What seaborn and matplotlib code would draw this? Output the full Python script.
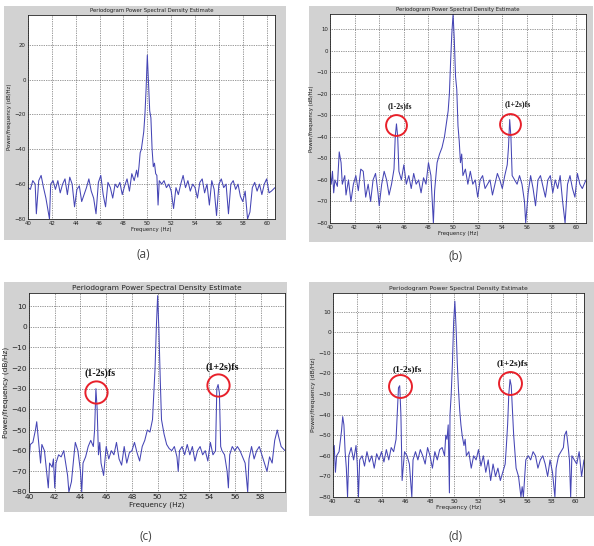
import matplotlib
matplotlib.use("Agg")
import matplotlib.pyplot as plt
import seaborn as sns
import numpy as np
import pandas as pd
from matplotlib.patches import Rectangle

sns.set_style("white")
plt.rcParams['font.family'] = ['DejaVu Sans']

# ---------------- data ----------------
freq_a = [40.0, 40.2, 40.4, 40.6, 40.7, 40.9, 41.1, 41.3, 41.5, 41.6, 41.8, 41.9, 42.1, 42.3, 42.5, 42.7,
          42.9, 43.1, 43.3, 43.5, 43.7, 43.9, 44.1, 44.3, 44.5, 44.7, 44.9, 45.1, 45.3, 45.5, 45.7, 45.9,
          46.1, 46.3, 46.5, 46.7, 46.9, 47.1, 47.3, 47.5, 47.7, 47.9, 48.1, 48.3, 48.5, 48.7, 48.9, 49.1,
          49.2, 49.3, 49.4, 49.5, 49.6, 49.7, 49.8, 49.9, 50.0, 50.1, 50.2, 50.3, 50.4, 50.5, 50.6, 50.7,
          50.8, 50.9, 51.0, 51.2, 51.4, 51.6, 51.8, 52.0, 52.2, 52.4, 52.6, 52.8, 53.0, 53.2, 53.4, 53.6,
          53.8, 54.0, 54.2, 54.4, 54.6, 54.8, 55.0, 55.2, 55.4, 55.6, 55.8, 56.0, 56.2, 56.4, 56.6, 56.8,
          57.0, 57.2, 57.4, 57.6, 57.8, 58.0, 58.2, 58.4, 58.6, 58.8, 59.0, 59.2, 59.4, 59.6, 59.8, 60.0,
          60.2, 60.4, 60.7]
psd_a = [-62, -63, -58, -60, -77, -58, -55, -62, -68, -72, -80, -60, -58, -63, -58, -65,
         -60, -57, -66, -56, -60, -73, -63, -61, -70, -66, -62, -57, -64, -68, -77, -59,
         -55, -66, -73, -59, -62, -68, -60, -62, -59, -66, -61, -57, -64, -54, -58, -52,
         -56, -50, -42, -40, -35, -30, -20, -5, 14, -2, -18, -22, -40, -50, -48, -54,
         -55, -72, -58, -60, -58, -62, -60, -64, -74, -62, -66, -60, -55, -62, -58, -64,
         -60, -62, -68, -59, -57, -65, -60, -72, -58, -63, -78, -60, -57, -62, -60, -77,
         -60, -58, -63, -60, -67, -70, -64, -80, -76, -62, -59, -64, -60, -66, -60, -57,
         -65, -64, -62]

freq_b = [40.0, 40.1, 40.2, 40.3, 40.4, 40.6, 40.75, 40.9, 41.0, 41.2, 41.3, 41.5, 41.7, 41.9, 42.1, 42.3,
          42.5, 42.7, 42.9, 43.1, 43.3, 43.5, 43.7, 43.9, 44.0, 44.2, 44.4, 44.6, 44.8, 45.0, 45.2, 45.3,
          45.4, 45.5, 45.6, 45.8, 46.0, 46.2, 46.4, 46.6, 46.8, 47.0, 47.2, 47.4, 47.6, 47.8, 48.0, 48.2,
          48.4, 48.5, 48.7, 48.9, 49.1, 49.3, 49.5, 49.6, 49.7, 49.8, 49.9, 50.0, 50.1, 50.2, 50.3, 50.4,
          50.5, 50.6, 50.7, 50.8, 51.0, 51.2, 51.4, 51.6, 51.8, 52.0, 52.2, 52.4, 52.6, 52.8, 53.0, 53.2,
          53.4, 53.6, 53.8, 54.0, 54.2, 54.4, 54.5, 54.6, 54.7, 54.8, 55.0, 55.2, 55.4, 55.6, 55.8, 55.9,
          56.1, 56.3, 56.5, 56.7, 56.9, 57.1, 57.3, 57.5, 57.7, 57.9, 58.1, 58.3, 58.5, 58.7, 58.9, 59.1,
          59.3, 59.5, 59.7, 59.9, 60.1, 60.3, 60.5, 60.8]
psd_b = [-57, -62, -56, -66, -60, -63, -47, -52, -62, -58, -67, -60, -70, -62, -58, -65,
         -55, -56, -68, -62, -70, -60, -57, -66, -72, -62, -56, -60, -67, -62, -55, -40,
         -34, -40, -56, -60, -53, -62, -58, -64, -57, -62, -60, -66, -59, -62, -52, -58,
         -80, -65, -52, -48, -45, -40, -32, -28, -20, -5, 8, 17, 5, -12, -18, -35,
         -42, -52, -48, -58, -55, -62, -56, -62, -60, -68, -60, -58, -64, -62, -60, -67,
         -62, -57, -60, -64, -58, -53, -45, -32, -40, -58, -60, -62, -58, -62, -70, -80,
         -66, -58, -64, -72, -60, -58, -63, -68, -60, -58, -66, -60, -64, -58, -70, -80,
         -62, -58, -64, -68, -57, -62, -64, -60]

freq_c = [40.0, 40.1, 40.3, 40.5, 40.6, 40.75, 40.9, 41.0, 41.2, 41.4, 41.5, 41.6, 41.8, 41.9, 42.0, 42.1,
          42.3, 42.5, 42.7, 42.9, 43.0, 43.1, 43.3, 43.5, 43.6, 43.8, 44.0, 44.1, 44.2, 44.4, 44.6, 44.8,
          45.0, 45.1, 45.2, 45.3, 45.4, 45.5, 45.6, 45.8, 46.0, 46.2, 46.4, 46.6, 46.8, 47.0, 47.2, 47.4,
          47.6, 47.8, 48.0, 48.2, 48.4, 48.6, 48.8, 49.0, 49.2, 49.4, 49.6, 49.8, 49.9, 50.0, 50.1, 50.2,
          50.3, 50.5, 50.7, 50.9, 51.1, 51.3, 51.5, 51.6, 51.7, 51.9, 52.1, 52.3, 52.5, 52.7, 52.9, 53.1,
          53.3, 53.5, 53.7, 53.9, 54.1, 54.3, 54.5, 54.6, 54.7, 54.8, 54.9, 55.0, 55.2, 55.4, 55.5, 55.6,
          55.8, 56.0, 56.2, 56.4, 56.6, 56.8, 57.0, 57.1, 57.3, 57.5, 57.7, 57.9, 58.1, 58.3, 58.5, 58.7,
          58.9, 59.1, 59.3, 59.4, 59.6, 59.9]
psd_c = [-65, -57, -56, -50, -46, -56, -66, -57, -60, -72, -78, -66, -68, -64, -78, -66,
         -62, -63, -60, -68, -72, -80, -75, -62, -56, -60, -70, -80, -66, -63, -58, -55,
         -58, -50, -30, -40, -62, -56, -66, -72, -58, -64, -60, -62, -56, -64, -67, -58,
         -66, -61, -60, -56, -61, -65, -58, -55, -50, -51, -45, -20, 0, 15, -2, -25,
         -45, -52, -57, -59, -60, -58, -63, -70, -60, -58, -62, -57, -62, -58, -65, -60,
         -58, -62, -60, -65, -56, -62, -60, -30, -28, -32, -58, -60, -62, -70, -78, -62,
         -58, -60, -58, -60, -63, -66, -80, -64, -58, -64, -60, -58, -62, -66, -70, -63,
         -66, -55, -50, -53, -58, -60]

freq_d = [40.0, 40.1, 40.2, 40.3, 40.5, 40.7, 40.8, 40.9, 41.0, 41.1, 41.2, 41.3, 41.5, 41.7, 41.9, 42.0,
          42.1, 42.2, 42.4, 42.6, 42.8, 43.0, 43.2, 43.4, 43.6, 43.8, 44.0, 44.2, 44.4, 44.6, 44.8, 45.0,
          45.2, 45.3, 45.4, 45.5, 45.6, 45.7, 45.9, 46.1, 46.3, 46.5, 46.6, 46.8, 47.0, 47.2, 47.4, 47.6,
          47.8, 48.0, 48.2, 48.4, 48.6, 48.8, 49.0, 49.2, 49.3, 49.4, 49.5, 49.6, 49.65, 49.75, 49.85, 49.95,
          50.05, 50.15, 50.25, 50.35, 50.45, 50.55, 50.65, 50.8, 50.9, 51.0, 51.2, 51.4, 51.6, 51.8, 52.0, 52.2,
          52.4, 52.6, 52.8, 53.0, 53.2, 53.4, 53.6, 53.8, 54.0, 54.2, 54.3, 54.4, 54.5, 54.6, 54.7, 54.8,
          54.9, 55.0, 55.1, 55.3, 55.5, 55.6, 55.7, 55.9, 56.1, 56.3, 56.5, 56.7, 56.9, 57.1, 57.3, 57.5,
          57.7, 57.9, 58.1, 58.3, 58.4, 58.6, 58.8, 59.0, 59.1, 59.25, 59.4, 59.5, 59.6, 59.7, 59.9, 60.1,
          60.3, 60.5, 60.7]
psd_d = [-57, -55, -68, -60, -58, -48, -41, -45, -58, -66, -80, -60, -56, -62, -55, -64,
         -80, -62, -60, -65, -58, -63, -60, -66, -59, -62, -58, -63, -57, -62, -56, -58,
         -52, -40, -27, -26, -40, -72, -58, -60, -64, -80, -62, -58, -62, -57, -60, -64,
         -56, -60, -66, -58, -62, -57, -56, -60, -50, -52, -45, -78, -40, -30, -15, 5,
         15, 2, -15, -28, -38, -45, -50, -55, -52, -60, -58, -66, -60, -62, -57, -65,
         -60, -68, -62, -72, -64, -70, -66, -72, -68, -64, -55, -45, -30, -23, -26, -38,
         -50, -58, -66, -70, -80, -75, -80, -62, -60, -62, -58, -60, -66, -62, -60, -64,
         -70, -62, -68, -80, -66, -60, -58, -56, -50, -48, -56, -62, -80, -60, -62, -64,
         -58, -70, -62]

xticks_a = [40, 42, 44, 46, 48, 50, 52, 54, 56, 58, 60]
xticks_b = [40, 42, 44, 46, 48, 50, 52, 54, 56, 58, 60]
xticks_c = [40, 42, 44, 46, 48, 50, 52, 54, 56, 58]
xticks_d = [40, 42, 44, 46, 48, 50, 52, 54, 56, 58, 60]
yticks_a = [20, 0, -20, -40, -60, -80]
yticks_bcd = [10, 0, -10, -20, -30, -40, -50, -60, -70, -80]

panel_labels = ['(a)', '(b)', '(c)', '(d)']
title_text = 'Periodogram Power Spectral Density Estimate'
xlabel_text = 'Frequency (Hz)'
ylabel_text = 'Power/frequency (dB/Hz)'
ann_left = '(1-2s)fs'
ann_right = '(1+2s)fs'

# ---------------- layout ----------------
W, H = 594, 546
fig = plt.figure(figsize=(W / 100, H / 100), dpi=100)
fig.patch.set_facecolor('white')


def rect(x0, y0, x1, y1):
    return [x0 / W, 1 - y1 / H, (x1 - x0) / W, (y1 - y0) / H]


panels = [
    dict(f=freq_a, p=psd_a, gray=(4, 6, 286, 240), ax=(28, 15, 275, 219), ylim=(-80, 37),
         yt=yticks_a, xlim=(40, 60.7), xt=xticks_a, fs=3.9, lab=(143, 255), ann=None),
    dict(f=freq_b, p=psd_b, gray=(309, 6, 593, 242), ax=(330, 14, 586, 223), ylim=(-80, 17),
         yt=yticks_bcd, xlim=(40, 60.8), xt=xticks_b, fs=3.9, lab=(456, 257),
         ann=dict(ms=15, afs=5.6, toff=[(3, 19), (8, 19)], coff=[-1, -4])),
    dict(f=freq_c, p=psd_c, gray=(4, 282, 287, 512), ax=(29, 293, 285, 492), ylim=(-80, 16.3),
         yt=yticks_bcd, xlim=(40, 59.9), xt=xticks_c, fs=5.3, lab=(146, 537),
         ann=dict(ms=16, afs=7.2, toff=[(4, 18), (4, 17)], coff=[-3, 0])),
    dict(f=freq_d, p=psd_d, gray=(309, 282, 594, 516), ax=(333, 293, 584, 497), ylim=(-80, 19),
         yt=yticks_bcd, xlim=(40, 60.7), xt=xticks_d, fs=4.3, lab=(456, 537),
         ann=dict(ms=16.5, afs=6.8, toff=[(8, 17), (2, 19)], coff=[0, -3])),
]

for i, pn in enumerate(panels):
    gx0, gy0, gx1, gy1 = pn['gray']
    fig.add_artist(Rectangle((gx0 / W, 1 - gy1 / H), (gx1 - gx0) / W, (gy1 - gy0) / H,
                             transform=fig.transFigure, facecolor='#d2d2d2', edgecolor='none', zorder=0))
    ax = fig.add_axes(rect(*pn['ax']))
    ax.set_facecolor('white')
    df = pd.DataFrame({'freq': pn['f'], 'psd': pn['p']})
    sns.lineplot(data=df, x='freq', y='psd', ax=ax, color='#4545b5', linewidth=0.75,
                 estimator=None, sort=False)
    ax.set_xlim(*pn['xlim'])
    ax.set_ylim(*pn['ylim'])
    ax.set_xticks(pn['xt'])
    ax.set_yticks(pn['yt'])
    fs = pn['fs']
    ax.tick_params(direction='in', length=2, width=0.4, labelsize=fs, pad=1.5, colors='#222222')
    ax.grid(True, linestyle=(0, (1.2, 1.6)), color='#333333', linewidth=0.45)
    for s in ax.spines.values():
        s.set_linewidth(0.6)
        s.set_color('#222222')
    ax.set_title(title_text, fontsize=fs, pad=2, color='#222222')
    ax.set_xlabel(xlabel_text, fontsize=fs, labelpad=1, color='#222222')
    ax.set_ylabel(ylabel_text, fontsize=fs, labelpad=1.5, color='#222222')

    if pn['ann'] is not None:
        an = pn['ann']
        f = np.array(pn['f'])
        p = np.array(pn['p'])
        windows = [(44.5, 46.2), (54.0, 55.5)]
        texts = [ann_left, ann_right]
        for k, (lo, hi) in enumerate(windows):
            m = (f >= lo) & (f <= hi)
            idx = np.argmax(np.where(m, p, -1e9))
            px, py = f[idx], p[idx]
            ax.annotate('', xy=(px, py), xytext=(0, an['coff'][k]), textcoords='offset pixels')
            # circle marker centred near the peak
            cx, cy = ax.transData.transform((px, py))
            cy += an['coff'][k]
            dx, dy = ax.transData.inverted().transform((cx, cy))
            ax.plot([dx], [dy], marker='o', markersize=an['ms'], markerfacecolor='none',
                    markeredgecolor='#e8202a', markeredgewidth=1.4, linestyle='none', zorder=5)
            ox, oy = an['toff'][k]
            ax.annotate(texts[k], xy=(dx, dy), xytext=(ox, oy), textcoords='offset pixels',
                        ha='center', va='center', fontsize=an['afs'], fontweight='bold',
                        family='Liberation Serif', color='#111111', zorder=6)

    lx, ly = pn['lab']
    fig.text(lx / W, 1 - ly / H, panel_labels[i], ha='center', va='center', fontsize=8.5,
             family='Open Sans', color='#444444')

fig.savefig('out.png', dpi=100, facecolor='white')
